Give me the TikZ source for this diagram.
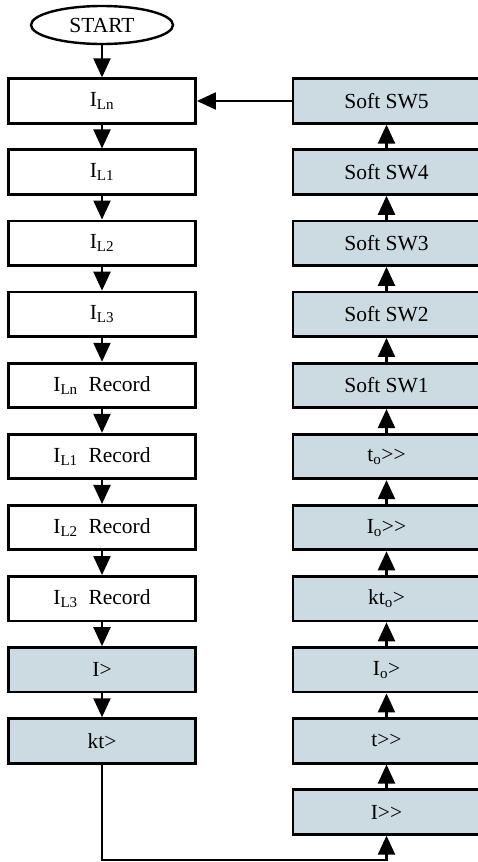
\documentclass[tikz,border=0pt]{standalone}
\usepackage{fontspec}
\setmainfont{Liberation Serif}
\usetikzlibrary{positioning,arrows.meta,shapes.geometric}
\definecolor{swfill}{RGB}{204,219,226}
\tikzset{
  block/.style={draw, line width=2.8pt, minimum width=187pt, minimum height=44.5pt,
    inner sep=0pt, font=\fontsize{21.5}{24}\selectfont},
  relay/.style={block, fill=swfill},
  flow/.style={line width=2.2pt, -{Triangle[length=19pt,width=17pt]}},
}
\begin{document}
\begin{tikzpicture}[x=1pt,y=-1pt]
\useasboundingbox (0,0) rectangle (478,862);

% Start
\node[ellipse, draw, line width=2.4pt, minimum width=142pt, minimum height=38pt,
  inner sep=0pt, font=\fontsize{21.5}{24}\selectfont] (start) at (102,25) {START};

% Left column
\foreach \lbl/\sty [count=\i] in {I\textsubscript{Ln}/block, I\textsubscript{L1}/block,
    I\textsubscript{L2}/block, I\textsubscript{L3}/block,
    I\textsubscript{Ln}\ \ Record/block, I\textsubscript{L1}\ \ Record/block,
    I\textsubscript{L2}\ \ Record/block, I\textsubscript{L3}\ \ Record/block,
    I>/relay, kt>/relay}
  \node[\sty] (l\i) at (102,{101+(\i-1)*71.1}) {\lbl};

% Right column
\foreach \lbl [count=\i] in {Soft SW5, Soft SW4, Soft SW3, Soft SW2, Soft SW1,
    t\textsubscript{o}>{}>, I\textsubscript{o}>{}>, kt\textsubscript{o}>,
    I\textsubscript{o}>, t>{}>, I>{}>}
  \node[relay] (r\i) at (386.5,{101+(\i-1)*71.1}) {\lbl};

% Connectors
\draw[flow] (start) -- (l1);
\foreach \j [count=\i] in {2,...,10}
  \draw[flow] (l\i) -- (l\j);
\foreach \j [count=\i] in {2,...,11}
  \draw[flow] (r\j) -- (r\i);
\draw[flow] (r1) -- (l1);

\coordinate (loop) at (102,860);
\draw[flow] (l10.south) -- (loop) -| (r11.south);
\end{tikzpicture}
\end{document}
